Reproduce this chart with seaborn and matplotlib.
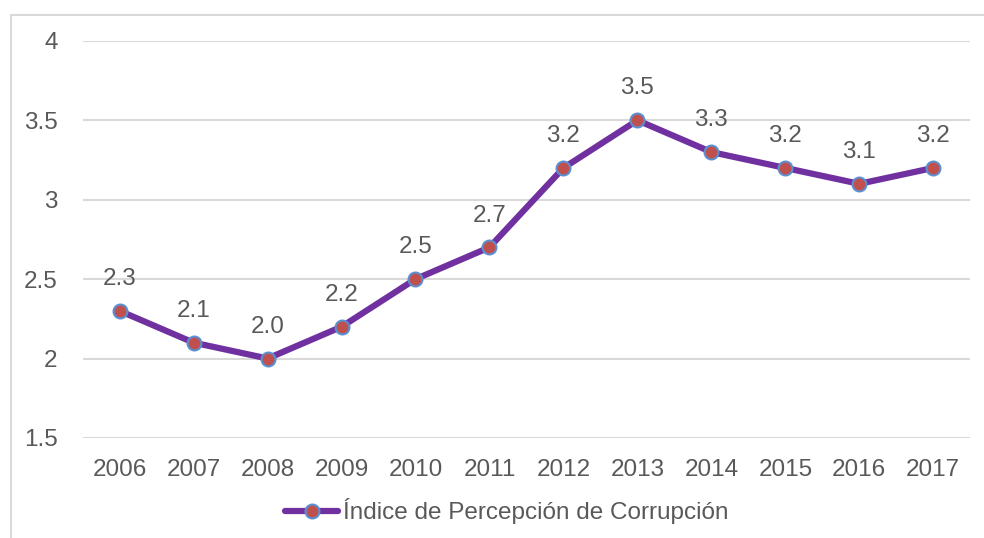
import matplotlib
matplotlib.use("Agg")
import matplotlib.pyplot as plt
import seaborn as sns
import pandas as pd
from matplotlib.lines import Line2D

# Datos del gráfico
anios = [2006, 2007, 2008, 2009, 2010, 2011, 2012, 2013, 2014, 2015, 2016, 2017]
indice = [2.3, 2.1, 2.0, 2.2, 2.5, 2.7, 3.2, 3.5, 3.3, 3.2, 3.1, 3.2]
serie = "Índice de Percepción de Corrupción"
y_ticks = [1.5, 2, 2.5, 3, 3.5, 4]

df = pd.DataFrame({"Año": anios, "Valor": indice})

sns.set_theme(style="white")
plt.rcParams["font.family"] = ["Liberation Sans", "DejaVu Sans"]

gris_texto = "#595959"
morado = "#7030A0"
rojo = "#C0504D"
azul = "#5B8FD0"
fs = 17.5

fig = plt.figure(figsize=(9.84, 5.38), dpi=100)
ax = fig.add_axes([0.084, 0.186, 0.902, 0.738])

sns.lineplot(data=df, x="Año", y="Valor", ax=ax, color=morado, linewidth=4.5,
             marker="o", markersize=10, markerfacecolor=rojo,
             markeredgecolor=azul, markeredgewidth=1.5)

# Etiquetas de datos
for a, v in zip(anios, indice):
    ax.annotate(f"{v:.1f}", (a, v), xytext=(0, 15), textcoords="offset points",
                ha="center", va="bottom", fontsize=fs, color=gris_texto)

ax.set_xlim(anios[0] - 0.5, anios[-1] + 0.5)
ax.set_ylim(1.5, 4)
ax.set_xticks(anios)
ax.set_xticklabels([str(a) for a in anios])
ax.set_yticks(y_ticks)
ax.set_yticklabels(["1.5", "2", "2.5", "3", "3.5", "4"])
ax.tick_params(axis="x", length=0, pad=15, labelsize=fs, labelcolor=gris_texto)
ax.tick_params(axis="y", length=0, pad=18, labelsize=fs, labelcolor=gris_texto)
ax.grid(axis="y", color="#D9D9D9", linewidth=1.5)
ax.set_axisbelow(True)
for s in ax.spines.values():
    s.set_visible(False)
ax.set_xlabel("")
ax.set_ylabel("")

# Leyenda
handle = Line2D([], [], color=morado, linewidth=4.5, marker="o", markersize=10,
                markerfacecolor=rojo, markeredgecolor=azul, markeredgewidth=1.5)
fig.legend([handle], [serie], loc="center", bbox_to_anchor=(0.515, 0.05),
           frameon=False, fontsize=fs, labelcolor=gris_texto,
           handlelength=2.2, handletextpad=0.2)

# Marco del área del gráfico
fig.add_artist(Line2D([0.011, 0.011], [0.0, 0.972], color="#D9D9D9", linewidth=1.5,
                      transform=fig.transFigure))
fig.add_artist(Line2D([0.011, 1.0], [0.972, 0.972], color="#D9D9D9", linewidth=1.5,
                      transform=fig.transFigure))

fig.savefig("out.png", dpi=100)
